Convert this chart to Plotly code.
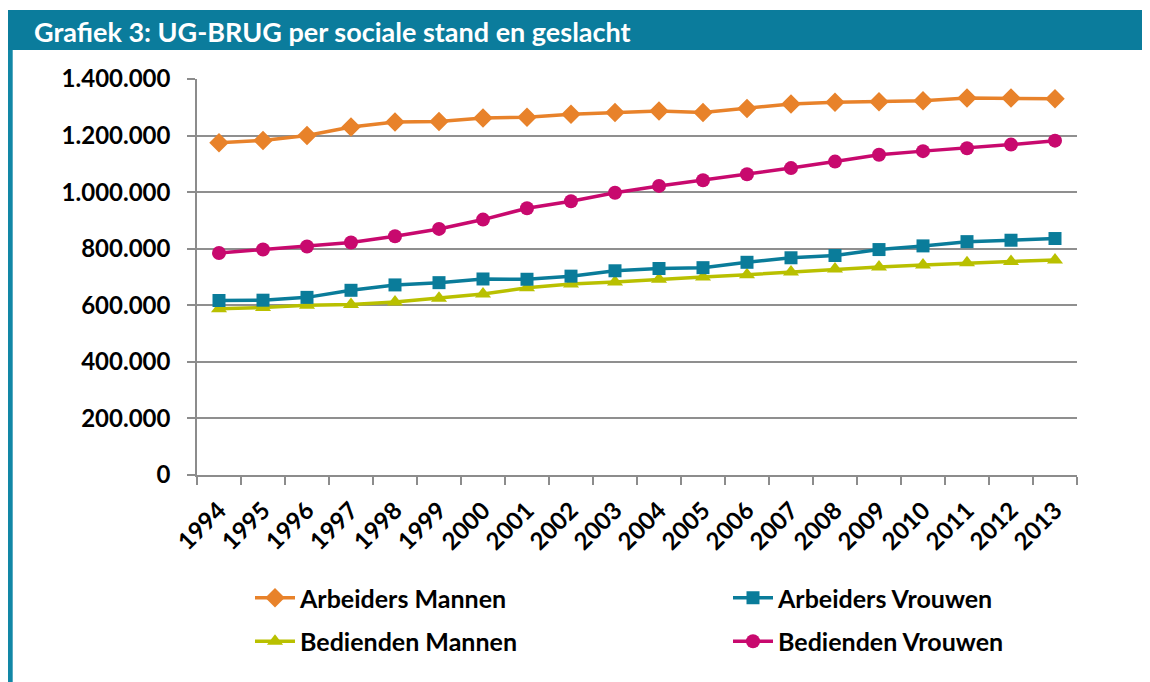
import plotly.graph_objects as go

years = [str(y) for y in range(1994, 2014)]
arbeiders_mannen = [1175000, 1183000, 1200000, 1230000, 1248000, 1250000, 1262000, 1265000, 1275000, 1282000,
                    1287000, 1282000, 1296000, 1312000, 1318000, 1320000, 1323000, 1333000, 1333000, 1330000]
arbeiders_vrouwen = [617000, 618000, 628000, 653000, 672000, 680000, 693000, 692000, 703000, 722000,
                     730000, 733000, 752000, 768000, 776000, 797000, 810000, 825000, 830000, 836000]
bedienden_mannen = [588000, 592000, 600000, 603000, 612000, 625000, 640000, 662000, 675000, 682000,
                    692000, 700000, 708000, 718000, 728000, 735000, 742000, 750000, 755000, 760000]
bedienden_vrouwen = [785000, 797000, 808000, 822000, 844000, 870000, 903000, 943000, 968000, 998000,
                     1022000, 1042000, 1063000, 1085000, 1108000, 1132000, 1145000, 1155000, 1168000, 1182000]
y_ticks = [0, 200000, 400000, 600000, 800000, 1000000, 1200000, 1400000]

# page has an 8px body margin: figure origin sits at page (8, 8)
OX, OY = 8, 8
W, H = 1142, 674
# plot area in page pixels: x 197..1077, y 79..475
L, T = 197 - OX, 79 - OY
R, B = W - (1077 - OX), H - (475 - OY)
PW, PH = W - L - R, H - T - B
TEAL = "#0b7c9c"
FONT = "Lato, Open Sans, sans-serif"

def px(x):
    return (x - OX - L) / PW

def py(y):
    return (H - B - (y - OY)) / PH

fig = go.Figure()
series = [
    ("Arbeiders Mannen", arbeiders_mannen, "#e8822a", "diamond", 15, "legend"),
    ("Bedienden Mannen", bedienden_mannen, "#b9c000", "triangle-up", 14, "legend"),
    ("Arbeiders Vrouwen", arbeiders_vrouwen, "#0a7c9a", "square", 13, "legend2"),
    ("Bedienden Vrouwen", bedienden_vrouwen, "#c8096e", "circle", 14, "legend2"),
]
for name, vals, col, sym, sz, lg in series:
    fig.add_trace(go.Scatter(
        x=years, y=vals, name=name, mode="lines+markers",
        line=dict(color=col, width=3.5),
        marker=dict(symbol=sym, size=sz, color=col),
        legend=lg, legendgroup=name,
    ))

legend_common = dict(
    font=dict(family=FONT, size=25, color="#000000", weight="bold"),
    bgcolor="rgba(0,0,0,0)", orientation="v", tracegroupgap=8,
    xanchor="left", yanchor="top", itemwidth=40,
)

axis_font = dict(family=FONT, size=24, color="#000000", weight="bold")

fig.update_layout(
    width=W, height=H,
    margin=dict(l=L, r=R, t=T, b=B, pad=0),
    paper_bgcolor="white", plot_bgcolor="white",
    separators=",.",
    showlegend=True,
    legend=dict(x=px(250), y=py(575), **legend_common),
    legend2=dict(x=px(728), y=py(575), **legend_common),
    font=dict(family=FONT, color="#000000"),
    xaxis=dict(
        type="category", tickson="boundaries", ticks="outside", ticklen=8,
        tickcolor="#8c8c8c", tickwidth=1.5, showline=True, linecolor="#8c8c8c", linewidth=1.5,
        showgrid=False, tickangle=-45, ticklabelstandoff=10,
        tickfont=axis_font,
        range=[-0.5, len(years) - 0.5],
    ),
    yaxis=dict(
        range=[0, 1400000], tickvals=y_ticks, tickformat=",d", ticks="outside", ticklen=8,
        tickcolor="#8c8c8c", tickwidth=1.5, showline=True, linecolor="#8c8c8c", linewidth=1.5,
        showgrid=True, gridcolor="#8f8f8f", gridwidth=1.5, zeroline=False,
        ticklabelstandoff=12,
        tickfont=axis_font,
    ),
)

# header bar and left border
fig.add_shape(type="rect", xref="paper", yref="paper", layer="below",
              x0=px(8), x1=px(1160), y0=py(50), y1=py(10),
              fillcolor=TEAL, line=dict(width=0))
fig.add_shape(type="rect", xref="paper", yref="paper", layer="below",
              x0=px(8), x1=px(12.7), y0=py(690), y1=py(50),
              fillcolor="#1287a6", line=dict(width=0))
fig.add_annotation(
    text="<b>Grafiek 3: UG-BRUG per sociale stand en geslacht</b>",
    xref="paper", yref="paper", x=px(32), y=py(31), xanchor="left", yanchor="middle",
    showarrow=False, font=dict(family=FONT, size=27, color="white"),
)

fig.write_html("out.html")
